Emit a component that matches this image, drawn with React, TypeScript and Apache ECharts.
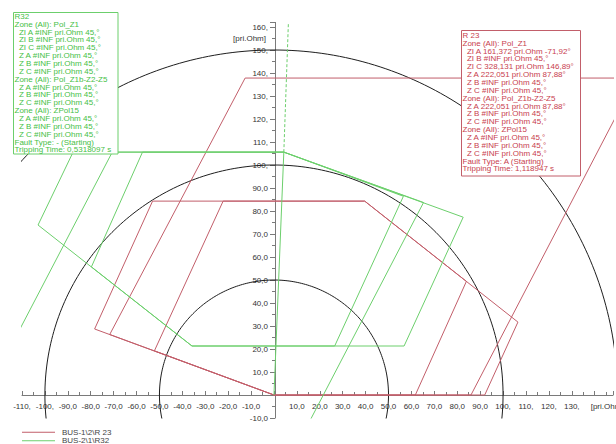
import React, { useEffect, useRef } from "react";
import * as echarts from "echarts";

const RED_NAME = "BUS-1\\2\\R 23";
const GREEN_NAME = "BUS-2\\1\\R32";

// radii of the black reference circles (pri.Ohm)
const circleRadii = [50, 100, 150];

// R 23 (red) zone polygons, [R, X] in pri.Ohm
const redZone1 = [[-53, 84.3], [39.6, 84.3], [106.5, 31.7], [92, 0], [0, 0], [-78.3, 28.7], [-53, 84.3]];
const redZone2 = [[-22.2, 84.3], [39.6, 84.3], [84, 49.4], [61.7, 0], [0, 0], [-52.2, 19.2], [-22.2, 84.3]];
const redZone3 = [[-12.6, 137.8], [158, 137.8], [86, 0], [0, 0], [-71.7, 26.3], [-12.6, 137.8]];

// R32 (green) zone polygons
const greenZone1 = [[4.3, 105.6], [-87.7, 105.6], [-103, 73.9], [-35.8, 21.3], [56.8, 21.3], [82.6, 77.3], [4.3, 105.6]];
const greenZone2 = [[4.3, 105.6], [-57.4, 105.6], [-79.7, 55.7], [-35.8, 21.3], [26.5, 21.3], [56.5, 86.4], [4.3, 105.6]];
const greenZone3 = [[-142.8, -32.2], [-70.6, 105.6], [4.3, 105.6], [65.3, 83.7], [4.7, -32.2], [-142.8, -32.2]];

// line impedance
const lineImpedance = [[0, 0], [4.3, 105.6]];
const lineExtension = [[4.3, 105.6], [6.3, 162]];

const X_MIN = -110;
const X_MAX = 148;
const Y_MIN = -10;
const Y_MAX = 162;

const r32Lines = [
  "R32",
  "Zone (All): Pol_Z1",
  "  ZI A #INF pri.Ohm 45,\u00b0",
  "  ZI B #INF pri.Ohm 45,\u00b0",
  "  ZI C #INF pri.Ohm 45,\u00b0",
  "  Z A #INF pri.Ohm 45,\u00b0",
  "  Z B #INF pri.Ohm 45,\u00b0",
  "  Z C #INF pri.Ohm 45,\u00b0",
  "Zone (All): Pol_Z1b-Z2-Z5",
  "  Z A #INF pri.Ohm 45,\u00b0",
  "  Z B #INF pri.Ohm 45,\u00b0",
  "  Z C #INF pri.Ohm 45,\u00b0",
  "Zone (All): ZPol15",
  "  Z A #INF pri.Ohm 45,\u00b0",
  "  Z B #INF pri.Ohm 45,\u00b0",
  "  Z C #INF pri.Ohm 45,\u00b0",
  "Fault Type: - (Starting)",
  "Tripping Time: 0,5318097 s",
];

const r23Lines = [
  "R 23",
  "Zone (All): Pol_Z1",
  "  ZI A 161,372 pri.Ohm -71,92\u00b0",
  "  ZI B #INF pri.Ohm 45,\u00b0",
  "  ZI C 328,131 pri.Ohm 146,89\u00b0",
  "  Z A 222,051 pri.Ohm 87,88\u00b0",
  "  Z B #INF pri.Ohm 45,\u00b0",
  "  Z C #INF pri.Ohm 45,\u00b0",
  "Zone (All): Pol_Z1b-Z2-Z5",
  "  Z A 222,051 pri.Ohm 87,88\u00b0",
  "  Z B #INF pri.Ohm 45,\u00b0",
  "  Z C #INF pri.Ohm 45,\u00b0",
  "Zone (All): ZPol15",
  "  Z A #INF pri.Ohm 45,\u00b0",
  "  Z B #INF pri.Ohm 45,\u00b0",
  "  Z C #INF pri.Ohm 45,\u00b0",
  "Fault Type: A (Starting)",
  "Tripping Time: 1,118947 s",
];

const RED = "#c25e6a";
const GREEN = "#6ccf6c";
const FONT = '"Liberation Sans", Arial, sans-serif';

const GRID_LEFT = 22;
const GRID_RIGHT = 0.6;
const GRID_TOP = 22.4;
const GRID_BOTTOM = 26;
const GRID_WIDTH = 616 - GRID_LEFT - GRID_RIGHT;
const GRID_HEIGHT = 444 - GRID_TOP - GRID_BOTTOM;

function circlePoints(r: number) {
  const pts: number[][] = [];
  for (let a = 0; a <= 360; a += 1) {
    const t = (a * Math.PI) / 180;
    pts.push([r * Math.cos(t), r * Math.sin(t)]);
  }
  return pts;
}

function fmt(v: number, maxShown: number) {
  if (v === 0 || Math.round(v) % 10 !== 0 || v > maxShown) return "";
  return Math.abs(v) >= 100 ? `${v},` : `${v},0`;
}

function polySeries(name: string, data: number[][], color: string, extra: any = {}) {
  return {
    name,
    type: "line",
    data,
    showSymbol: false,
    symbol: "none",
    silent: true,
    clip: true,
    itemStyle: { color },
    lineStyle: { color, width: 1, ...(extra.lineStyle || {}) },
    z: 3,
  };
}

export default function App() {
  const ref = useRef<HTMLDivElement>(null);
  useEffect(() => {
    if (!ref.current) return;
    const chart = echarts.init(ref.current, null, { renderer: "svg" });
    const series: any[] = [];
    circleRadii.forEach((r) => {
      series.push({
        name: "circle" + r,
        type: "line",
        data: circlePoints(r),
        showSymbol: false,
        symbol: "none",
        silent: true,
        clip: true,
        lineStyle: { color: "#1e1e1e", width: 1 },
        itemStyle: { color: "#1e1e1e" },
        z: 2,
      });
    });
    [redZone1, redZone2, redZone3].forEach((z) => series.push(polySeries(RED_NAME, z, RED)));
    [greenZone1, greenZone2, greenZone3].forEach((z) => series.push(polySeries(GREEN_NAME, z, GREEN)));
    series.push(polySeries(GREEN_NAME, lineImpedance, GREEN));
    series.push(polySeries(GREEN_NAME, lineExtension, GREEN, { lineStyle: { type: [3, 2] } }));

    // axes cross at R = 0, X = 0 (labels travel with the axis lines)
    const yAxisOffset = -((0 - X_MIN) / (X_MAX - X_MIN)) * GRID_WIDTH;
    const xAxisOffset = -((0 - Y_MIN) / (Y_MAX - Y_MIN)) * GRID_HEIGHT;

    const axisColor = "#7a7a7a";
    chart.setOption({
      animation: false,
      backgroundColor: "#ffffff",
      grid: { left: GRID_LEFT, right: GRID_RIGHT, top: GRID_TOP, bottom: GRID_BOTTOM },
      xAxis: {
        type: "value",
        position: "bottom",
        offset: xAxisOffset,
        min: X_MIN,
        max: X_MAX,
        interval: 10,
        axisLine: { onZero: false, lineStyle: { color: axisColor, width: 1 } },
        axisTick: { inside: true, length: 4, lineStyle: { color: axisColor } },
        minorTick: { show: true, splitNumber: 2, length: 3, lineStyle: { color: axisColor } },
        axisLabel: {
          formatter: (v: number) => fmt(v, 130),
          fontSize: 8,
          color: "#333",
          margin: 7,
          fontFamily: FONT,
        },
        splitLine: { show: false },
      },
      yAxis: {
        type: "value",
        position: "left",
        offset: yAxisOffset,
        min: Y_MIN,
        max: Y_MAX,
        interval: 10,
        axisLine: { onZero: false, lineStyle: { color: axisColor, width: 1 } },
        axisTick: { length: 5, lineStyle: { color: axisColor } },
        minorTick: { show: true, splitNumber: 2, length: 3, lineStyle: { color: axisColor } },
        axisLabel: {
          formatter: (v: number) => fmt(v, 160),
          fontSize: 8,
          color: "#333",
          margin: 7,
          fontFamily: FONT,
        },
        splitLine: { show: false },
      },
      legend: {
        data: [RED_NAME, GREEN_NAME],
        orient: "vertical",
        left: 22,
        top: 428,
        height: 40,
        padding: 0,
        itemGap: 0,
        itemWidth: 33,
        itemHeight: 1,
        icon: "rect",
        selectedMode: false,
        textStyle: { fontSize: 8, color: "#444", fontFamily: FONT, lineHeight: 8.5, padding: [0, 0, 0, 2] },
      },
      series,
    });

    const xUnit = chart.convertToPixel({ gridIndex: 0 } as any, [140, 0]) as number[];
    const yUnit = chart.convertToPixel({ gridIndex: 0 } as any, [0, 155.2]) as number[];

    chart.setOption({
      graphic: [
        {
          type: "text",
          z: 50,
          x: xUnit[0] - 4,
          y: xUnit[1] + 11.5,
          style: { text: "[pri.Ohm]", font: `8px ${FONT}`, fill: "#333", verticalAlign: "middle", align: "left" },
        },
        {
          type: "text",
          z: 50,
          x: yUnit[0] - 8,
          y: yUnit[1],
          style: { text: "[pri.Ohm]", font: `8px ${FONT}`, fill: "#333", verticalAlign: "middle", align: "right" },
        },
        {
          type: "rect",
          z: 100,
          shape: { x: 13.5, y: 12.5, width: 104.5, height: 141.5 },
          style: { fill: "#ffffff", stroke: GREEN, lineWidth: 1 },
        },
        {
          type: "text",
          z: 101,
          x: 14.5,
          y: 12.5,
          style: {
            text: r32Lines.join("\n"),
            font: `8px ${FONT}`,
            fill: "#45c045",
            lineHeight: 7.85,
            verticalAlign: "top",
            align: "left",
          },
        },
        {
          type: "rect",
          z: 100,
          shape: { x: 461.5, y: 30.5, width: 119, height: 145.5 },
          style: { fill: "#ffffff", stroke: RED, lineWidth: 1 },
        },
        {
          type: "text",
          z: 101,
          x: 462.5,
          y: 31.5,
          style: {
            text: r23Lines.join("\n"),
            font: `8px ${FONT}`,
            fill: "#c8404e",
            lineHeight: 7.85,
            verticalAlign: "top",
            align: "left",
          },
        },
      ],
    });

    return () => chart.dispose();
  }, []);
  return (
    <div
      ref={ref}
      style={{ position: "fixed", left: 0, top: 0, width: 616, height: 444, background: "#fff" }}
    />
  );
}
